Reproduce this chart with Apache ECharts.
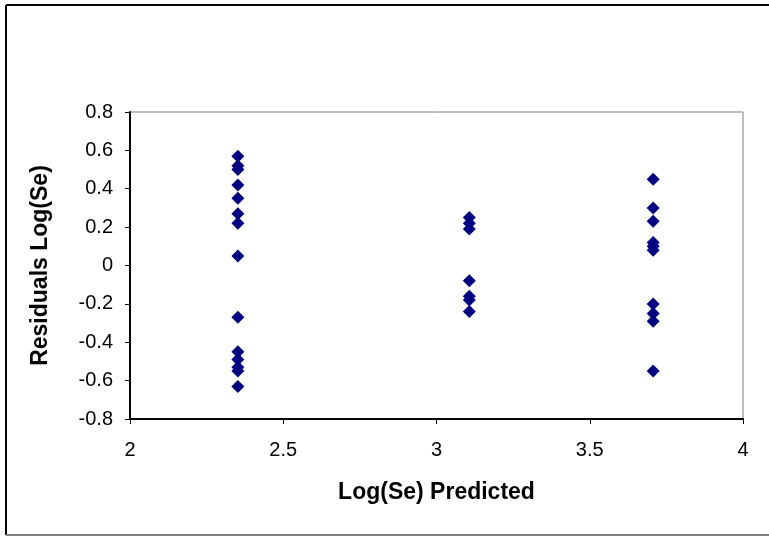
<!DOCTYPE html>
<html>
<head>
<meta charset="utf-8">
<script src="https://cdn.jsdelivr.net/npm/echarts@6/dist/echarts.min.js"></script>
<style>
  html, body { margin: 0; padding: 0; background: #fff; }
  #chart { width: 769px; height: 537px; }
</style>
</head>
<body>
<div id="chart"></div>
<script>
  // predicted values (three groups) and their residuals
  var predictedA = 2.352
  var residualsA = [0.57, 0.52, 0.50, 0.42, 0.35, 0.27, 0.22, 0.05, -0.27, -0.45, -0.49, -0.53, -0.55, -0.63]
  var predictedB = 3.107
  var residualsB = [0.25, 0.22, 0.19, -0.08, -0.16, -0.18, -0.24]
  var predictedC = 3.707
  var residualsC = [0.45, 0.30, 0.23, 0.12, 0.10, 0.08, -0.20, -0.25, -0.29, -0.55]

  var points = []
  residualsA.forEach(function (r) { points.push([predictedA, r]) })
  residualsB.forEach(function (r) { points.push([predictedB, r]) })
  residualsC.forEach(function (r) { points.push([predictedC, r]) })

  var chart = echarts.init(document.getElementById('chart'))
  var font = 'Liberation Sans, Arial, sans-serif'
  var option = {
    animation: false,
    backgroundColor: '#fff',
    grid: {
      left: 130,
      right: 26,
      top: 112,
      bottom: 118,
      show: true,
      borderColor: '#808080',
      borderWidth: 1
    },
    graphic: [
      { type: 'line', shape: { x1: 6, y1: 5, x2: 769, y2: 5 }, style: { stroke: '#000', lineWidth: 2 } },
      { type: 'line', shape: { x1: 6, y1: 5, x2: 6, y2: 535 }, style: { stroke: '#000', lineWidth: 2 } },
      { type: 'line', shape: { x1: 6, y1: 535, x2: 769, y2: 535 }, style: { stroke: '#808080', lineWidth: 2 } }
    ],
    xAxis: {
      type: 'value',
      min: 2,
      max: 4,
      interval: 0.5,
      name: 'Log(Se) Predicted',
      nameLocation: 'middle',
      nameGap: 62,
      nameTextStyle: { fontFamily: font, fontSize: 23, fontWeight: 'bold', color: '#000' },
      axisLine: { show: true, onZero: false, lineStyle: { color: '#000', width: 2 } },
      axisTick: { show: true, length: 5, lineStyle: { color: '#000' } },
      axisLabel: { fontFamily: font, fontSize: 20, color: '#000', margin: 21 },
      splitLine: { show: false }
    },
    yAxis: {
      type: 'value',
      min: -0.8,
      max: 0.8,
      interval: 0.2,
      name: 'Residuals Log(Se)',
      nameLocation: 'middle',
      nameGap: 78,
      nameRotate: 90,
      nameTextStyle: { fontFamily: font, fontSize: 23, fontWeight: 'bold', color: '#000' },
      axisLine: { show: true, onZero: false, lineStyle: { color: '#000', width: 2 } },
      axisTick: { show: true, length: 5, lineStyle: { color: '#000' } },
      axisLabel: {
        fontFamily: font,
        fontSize: 20,
        color: '#000',
        margin: 17,
        formatter: function (v) { return String(Math.round(v * 10) / 10) }
      },
      splitLine: { show: false }
    },
    series: [
      {
        type: 'scatter',
        symbol: 'diamond',
        symbolSize: 13,
        itemStyle: { color: '#000080', opacity: 1 },
        data: points
      }
    ]
  }
  chart.setOption(option)
</script>
</body>
</html>
